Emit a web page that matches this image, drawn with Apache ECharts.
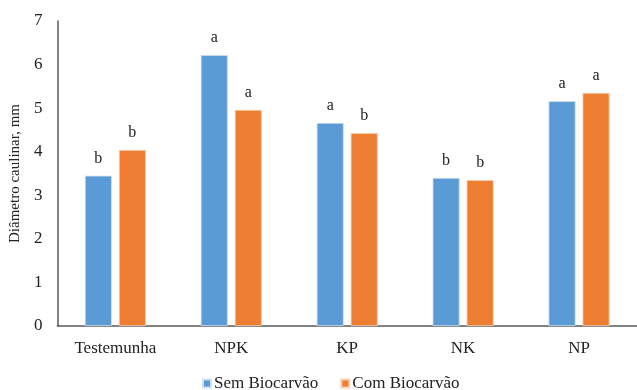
<!DOCTYPE html>
<html>
<head>
<meta charset="utf-8">
<script src="https://cdn.jsdelivr.net/npm/echarts@6/dist/echarts.min.js"></script>
<style>
  html, body { margin: 0; padding: 0; background: #fff; }
  #main { width: 637px; height: 390px; }
</style>
</head>
<body>
<div id="main"></div>
<script>
var categories = ['Testemunha', 'NPK', 'KP', 'NK', 'NP']
var semBio = [3.45, 6.22, 4.66, 3.40, 5.16]
var comBio = [4.04, 4.96, 4.43, 3.35, 5.35]
var semLetras = ['b', 'a', 'a', 'b', 'a']
var comLetras = ['b', 'a', 'b', 'b', 'a']

var serif = 'Liberation Serif'
var chart = echarts.init(document.getElementById('main'))

function letra(lista) {
  return {
    show: true,
    position: 'top',
    distance: 9,
    fontFamily: serif,
    fontSize: 16,
    color: '#222',
    formatter: function (p) { return lista[p.dataIndex] }
  }
}

var option = {
  animation: false,
  textStyle: { fontFamily: serif },
  legend: {
    top: 370,
    left: 197,
    itemWidth: 8,
    itemHeight: 8,
    itemGap: 22,
    icon: 'rect',
    textStyle: { fontFamily: serif, fontSize: 17, color: '#222', padding: [0, 0, 0, -2] },
    data: ['Sem Biocarvão', 'Com Biocarvão']
  },
  grid: { left: 57, right: -10, top: 21, bottom: 64 },
  xAxis: {
    type: 'category',
    data: categories,
    axisLine: { lineStyle: { color: '#595959', width: 1.5 } },
    axisTick: { show: false },
    axisLabel: { fontFamily: serif, fontSize: 17, color: '#222', margin: 14 }
  },
  yAxis: {
    type: 'value',
    min: 0,
    max: 7,
    interval: 1,
    name: 'Diâmetro caulinar, mm',
    nameLocation: 'middle',
    nameGap: 28,
    nameTextStyle: { fontFamily: serif, fontSize: 15, color: '#222' },
    axisLine: { show: true, lineStyle: { color: '#595959', width: 1.5 } },
    axisTick: { show: false },
    splitLine: { show: false },
    axisLabel: { fontFamily: serif, fontSize: 17, color: '#222', margin: 15 }
  },
  series: [
    {
      name: 'Sem Biocarvão',
      type: 'bar',
      data: semBio,
      barWidth: 27,
      barGap: '26%',
      itemStyle: { color: '#5B9BD5', borderColor: '#cfe0f2', borderWidth: 0.8 },
      label: letra(semLetras)
    },
    {
      name: 'Com Biocarvão',
      type: 'bar',
      data: comBio,
      barWidth: 27,
      barGap: '26%',
      itemStyle: { color: '#ED7D31', borderColor: '#f8d0b5', borderWidth: 0.8 },
      label: letra(comLetras)
    }
  ]
}
chart.setOption(option)
</script>
</body>
</html>
